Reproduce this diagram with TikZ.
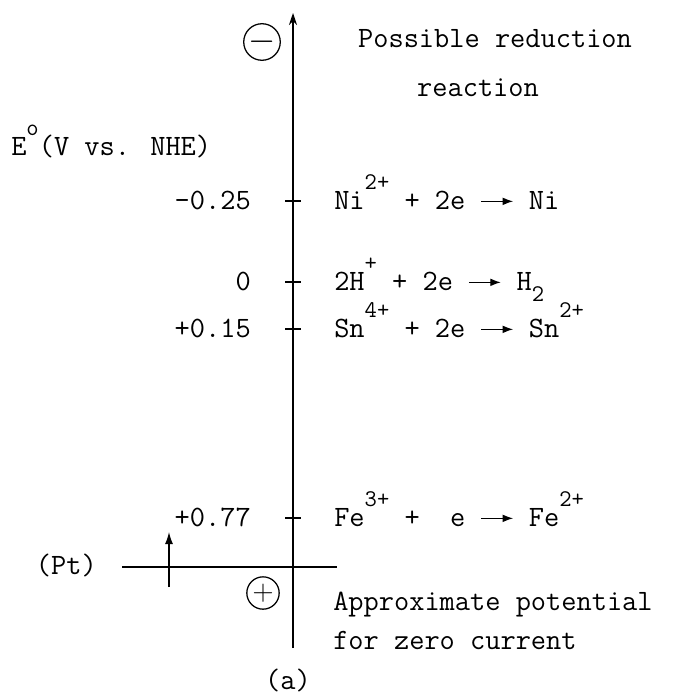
\documentclass[tikz,border=0pt]{standalone}
\usepackage{fontspec}
\setmainfont{Latin Modern Mono}
\usetikzlibrary{arrows.meta, positioning}
\newcommand{\up}[1]{\raisebox{0.65em}{\fontsize{17}{17}\selectfont #1}}
\newcommand{\dn}[1]{\raisebox{-0.4em}{\fontsize{17}{17}\selectfont #1}}
\newcommand{\rarr}{\tikz[x=1cm,y=1cm,baseline=-0.6ex]\draw[-{Latex[length=2.6mm,width=1.9mm]},line width=0.8pt] (0,0) -- (0.8,0);}
\tikzset{
  txt/.style={font=\fontsize{21}{26}\selectfont, inner sep=0pt},
  value/.style={txt, anchor=base east},
  reaction/.style={txt, anchor=base west},
  tick/.style={line width=0.9pt},
  sign/.style={draw, circle, line width=0.9pt, minimum size=26pt, inner sep=0pt, font=\fontsize{26}{26}\selectfont},
  every node/.style={txt}
}
\begin{document}
\begin{tikzpicture}[x=0.025cm,y=-0.025cm]
    \useasboundingbox (0,0) rectangle (672,696);
    % potential axis
    \coordinate (axbot) at (293,648);
    \coordinate (axtop) at (293,13);
    \draw[-{Stealth[length=3mm,width=2mm]}, line width=0.9pt] (axbot) -- (axtop);
    \node[sign] (minus) at (262,42) {$-$};
    \node[sign, minimum size=23pt, font=\fontsize{22}{22}\selectfont] (plus) at (263,593) {$+$};
    \node[anchor=base] (head) at (495,48) {Possible reduction};
    \node[anchor=base] (headb) at (478,96) {reaction};
    \node[anchor=base west] (ylab) at (11,155) {E\up{o}(V vs. NHE)};
    % ticks and couples
    \foreach \y/\val/\name in {201/-0.25/ni, 282/0/h, 329/+0.15/sn, 518/+0.77/fe}{
      \draw[tick] (285,\y) -- (301,\y);
      \node[value] (v\name) at (251,\y+8) {\val};
    }
    \node[reaction] (rni) at (334,209) {Ni\up{2+} + 2e \rarr{} Ni};
    \node[reaction] (rh) at (334,290) {2H\up{+} + 2e \rarr{} H\dn{2}};
    \node[reaction] (rsn) at (334,337) {Sn\up{4+} + 2e \rarr{} Sn\up{2+}};
    \node[reaction] (rfe) at (334,526) {Fe\up{3+} + \ e \rarr{} Fe\up{2+}};
    % zero current line
    \coordinate (pl) at (122,567);
    \coordinate (pr) at (337,567);
    \draw[line width=0.9pt] (pl) -- (pr);
    \node[anchor=east] (pt) at (97,565) {(Pt)};
    \coordinate (za) at (169,587);
    \coordinate (zb) at (169,532);
    \draw[-{Latex[length=3mm,width=2mm]}, line width=0.9pt] (za) -- (zb);
    \node[anchor=west, align=left] (approx) at (333,621) {Approximate potential\\[0.1em]for zero current};
    \node (cap) at (288,680) {(a)};
\end{tikzpicture}
\end{document}
